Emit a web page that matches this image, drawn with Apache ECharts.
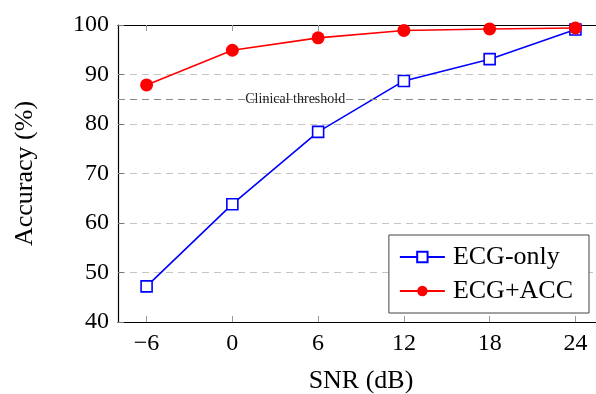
<!DOCTYPE html>
<html><head><meta charset="utf-8">
<script src="https://cdn.jsdelivr.net/npm/echarts@6/dist/echarts.min.js"></script>
<style>html,body{margin:0;padding:0;background:#fff}#c{width:596px;height:394px}</style>
</head><body><div id="c"></div>
<script>
const snr = [-6, 0, 6, 12, 18, 24];
const ecgOnly = [47.2, 63.8, 78.4, 88.7, 93.1, 99.1];
const ecgAcc = [87.9, 94.9, 97.4, 98.9, 99.2, 99.4];
const threshold = 85;
const thresholdLabel = 'Clinical threshold';
const xTicks = [-6, 0, 6, 12, 18, 24];
const yTicks = [40, 50, 60, 70, 80, 90, 100];

const font = 'Liberation Serif';
const chart = echarts.init(document.getElementById('c'), null, {renderer: 'canvas'});
const pair = (xs, ys) => xs.map((x, i) => [x, ys[i]]);
chart.setOption({
  animation: false,
  backgroundColor: '#fff',
  grid: {left: 118, width: 486, top: 25, height: 297, containLabel: false, outerBoundsMode: 'none'},
  xAxis: [{
    type: 'value', min: -8, max: 26, interval: 6, position: 'bottom',
    name: 'SNR (dB)', nameLocation: 'middle', nameGap: 46,
    nameTextStyle: {fontFamily: font, fontSize: 26, color: '#000'},
    axisLine: {show: true, onZero: false, lineStyle: {color: '#000', width: 1.2}},
    axisTick: {show: true, inside: true, length: 6, lineStyle: {color: '#999'}, customValues: xTicks},
    axisLabel: {fontFamily: font, fontSize: 24, color: '#000', margin: 10, customValues: xTicks,
      formatter: v => v < 0 ? '\u2212' + Math.abs(v) : String(v)},
    splitLine: {show: false}
  }, {
    type: 'value', min: -8, max: 26, interval: 6, position: 'top',
    axisLine: {show: true, onZero: false, lineStyle: {color: '#000', width: 1.2}},
    axisTick: {show: true, inside: true, length: 6, lineStyle: {color: '#999'}, customValues: xTicks},
    axisLabel: {show: false},
    splitLine: {show: false}
  }],
  yAxis: {
    type: 'value', min: 40, max: 100, interval: 10,
    name: 'Accuracy (%)', nameLocation: 'middle', nameGap: 80, nameRotate: 90,
    nameTextStyle: {fontFamily: font, fontSize: 26, color: '#000'},
    axisLine: {show: true, onZero: false, lineStyle: {color: '#000', width: 1.2}},
    axisTick: {show: true, inside: true, length: 6, lineStyle: {color: '#777'}},
    axisLabel: {fontFamily: font, fontSize: 24, color: '#000', margin: 9},
    splitLine: {show: true, lineStyle: {color: '#c4c4c4', type: [7, 5], width: 1}}
  },
  legend: {
    right: 7, top: 235, orient: 'vertical',
    backgroundColor: '#fff', borderColor: '#444', borderWidth: 1,
    padding: [9, 16, 9, 10], itemGap: 8, itemWidth: 45, itemHeight: 13,
    textStyle: {fontFamily: font, fontSize: 26, color: '#000', padding: [0, 0, 0, 3]},
    data: ['ECG-only', 'ECG+ACC']
  },
  series: [{
    name: 'ECG-only', type: 'line', data: pair(snr, ecgOnly),
    symbol: 'rect', symbolSize: 11,
    lineStyle: {color: '#0000ff', width: 1.6},
    itemStyle: {color: '#fff', borderColor: '#0000ff', borderWidth: 1.6},
    z: 3
  }, {
    name: 'ECG+ACC', type: 'line', data: pair(snr, ecgAcc),
    symbol: 'circle', symbolSize: 13,
    lineStyle: {color: '#ff0000', width: 1.6},
    itemStyle: {color: '#ff0000', borderColor: '#ff0000', borderWidth: 0},
    z: 4,
    markLine: {
      silent: true, symbol: 'none', animation: false,
      lineStyle: {color: '#888', type: [7, 5], width: 1},
      label: {show: false},
      data: [[{coord: [-8, threshold]}, {coord: [26, threshold]}]]
    },
    markPoint: {
      silent: true, symbol: 'rect', symbolSize: 0,
      label: {show: true, position: 'inside', formatter: thresholdLabel,
        fontFamily: font, fontSize: 14, color: '#222'},
      data: [{coord: [4.4, threshold]}]
    }
  }]
});
</script></body></html>
